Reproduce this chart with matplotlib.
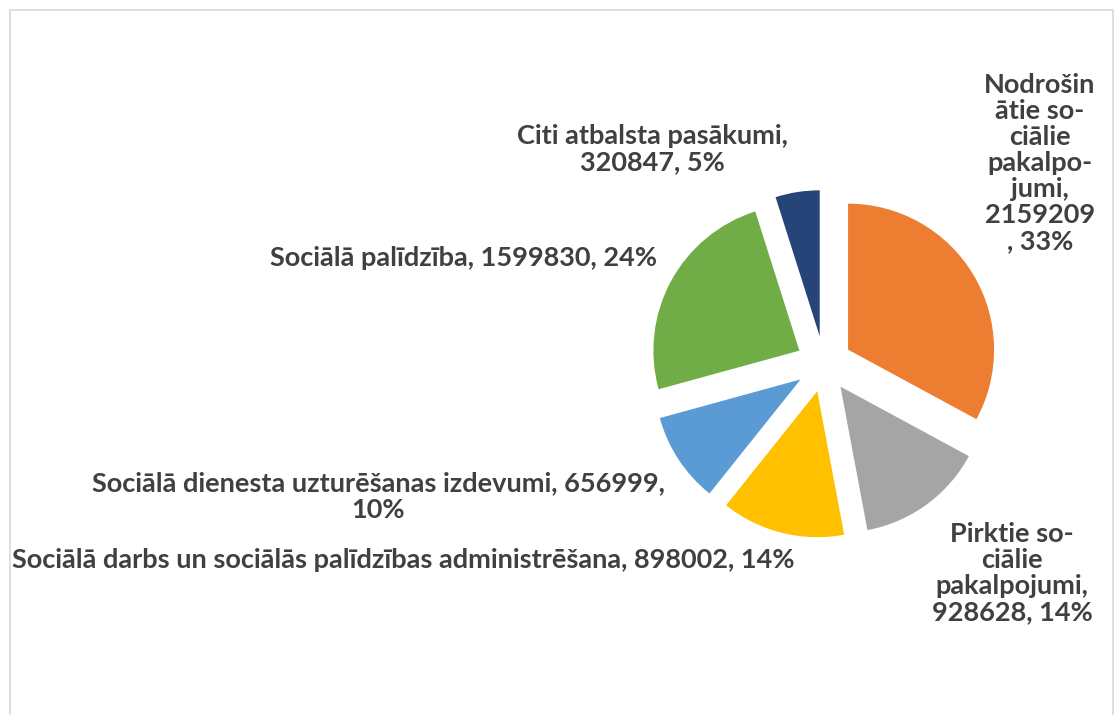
import matplotlib
matplotlib.use("Agg")
import matplotlib.pyplot as plt
from matplotlib.patches import Rectangle

categories = [
    "Nodrošinātie sociālie pakalpojumi",
    "Pirktie sociālie pakalpojumi",
    "Sociālā darbs un sociālās palīdzības administrēšana",
    "Sociālā dienesta uzturēšanas izdevumi",
    "Sociālā palīdzība",
    "Citi atbalsta pasākumi",
]
values = [2159209, 928628, 898002, 656999, 1599830, 320847]
percent_labels = ["33%", "14%", "14%", "10%", "24%", "5%"]
label_texts = [
    "Nodrošin\nātie so-\nciālie\npakalpo-\njumi,\n2159209\n, 33%",
    "Pirktie so-\nciālie\npakalpojumi,\n928628, 14%",
    "Sociālā darbs un sociālās palīdzības administrēšana, 898002, 14%",
    "Sociālā dienesta uzturēšanas izdevumi, 656999,\n10%",
    "Sociālā palīdzība, 1599830, 24%",
    "Citi atbalsta pasākumi,\n320847, 5%",
]
colors = ["#ED7D31", "#A5A5A5", "#FFC000", "#5B9BD5", "#70AD47", "#264478"]

W, H = 1115, 715
fig = plt.figure(figsize=(W / 100, H / 100), dpi=100)
fig.patch.set_facecolor("white")
ax = fig.add_axes([0, 0, 1, 1])

cx, cy, r = 824, H - 364, 146
ax.pie(values, colors=colors, startangle=90, counterclock=False,
       explode=[28] * len(values), center=(cx, cy), radius=r,
       wedgeprops=dict(linewidth=0))
ax.set_xlim(0, W)
ax.set_ylim(0, H)
ax.set_aspect("equal")
ax.axis("off")

# chart frame
fig.patches.append(Rectangle((10 / W, -0.05), (1113 - 10) / W, (H - 10) / H + 0.05,
                             transform=fig.transFigure, fill=False,
                             edgecolor="#d9d9d9", linewidth=1.2))

fkw = dict(family=["Lato", "DejaVu Sans"], fontweight="bold", color="#404040",
           fontsize=19.5, ha="center", va="center")
positions = [
    (1040, 163, 1.1),
    (1012, 573, 1.1),
    (403, 560, 1.15),
    (378, 497, 1.15),
    (464, 258, 1.15),
    (652, 149, 1.15),
]
for txt, (x, y, ls) in zip(label_texts, positions):
    ax.text(x, H - y, txt, linespacing=ls, **fkw)

fig.savefig("out.png", dpi=100, facecolor="white")
